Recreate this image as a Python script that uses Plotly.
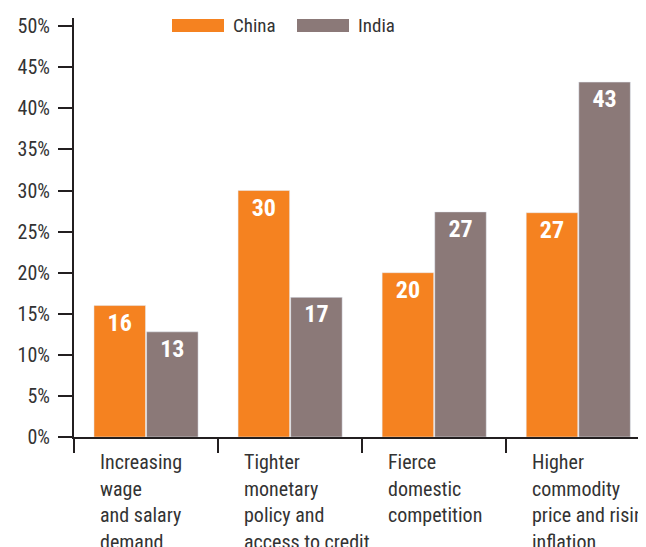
import plotly.graph_objects as go

CATEGORIES = ["wage", "credit", "competition", "inflation"]
CATEGORY_LINES = [
    ["Increasing", "wage", "and salary", "demand"],
    ["Tighter", "monetary", "policy and", "access to credit"],
    ["Fierce", "domestic", "competition"],
    ["Higher", "commodity", "price and rising", "inflation"],
]
CHINA = [16, 30, 20, 27.3]
INDIA = [12.8, 17, 27.4, 43.2]
CHINA_LABELS = ["16", "30", "20", "27"]
INDIA_LABELS = ["13", "17", "27", "43"]

ORANGE = "#F58220"
MAUVE = "#8B7978"
INK = "#333333"
LINE = "#231f20"
FONT = "Liberation Sans Narrow, Arial Narrow, Roboto Condensed, sans-serif"

# the page adds an 8px body margin, so everything is placed 8px up and left
OFF = 8
W, H = 646 - OFF, 547 - OFF
L, R, T = 74 - OFF, 0, 18 - OFF
B = H - (437 - OFF)
PW, PH = W - L - R, H - T - B


def px(x):
    return (x - OFF - L) / PW


def py(y):
    return (H - B - (y - OFF)) / PH


fig = go.Figure()
for vals, labels, name, color in [
    (CHINA, CHINA_LABELS, "China", ORANGE),
    (INDIA, INDIA_LABELS, "India", MAUVE),
]:
    fig.add_bar(
        x=CATEGORIES, y=vals, name=name, marker_color=color,
        text=labels, textposition="inside", insidetextanchor="end",
        textangle=0, textfont=dict(color="white", size=24, family=FONT, weight="bold"),
    )

# manual legend with wide swatches
for x0, label, color in [(172, "China", ORANGE), (297, "India", MAUVE)]:
    fig.add_shape(type="rect", xref="paper", yref="paper",
                  x0=px(x0), x1=px(x0 + 52), y0=py(32), y1=py(19),
                  fillcolor=color, line_width=0)
    fig.add_annotation(xref="paper", yref="paper", x=px(x0 + 59), y=py(25.5),
                       xanchor="left", yanchor="middle", text=label, showarrow=False,
                       font=dict(size=19, color=INK, family=FONT))

# category labels, one annotation per line, left aligned after each boundary tick
for i, lines in enumerate(CATEGORY_LINES):
    for j, line in enumerate(lines):
        fig.add_annotation(x=i - 0.5, xshift=24, yref="paper", y=0,
                           yshift=-(11 + j * 26.7), xanchor="left", yanchor="top",
                           text=line, showarrow=False,
                           font=dict(size=20, color=INK, family=FONT))

fig.update_layout(
    width=W, height=H,
    margin=dict(l=L, r=R, t=T, b=B),
    paper_bgcolor="white", plot_bgcolor="white",
    barmode="group", bargap=0.27, bargroupgap=0.02,
    showlegend=False,
    font=dict(family=FONT, color=INK),
    xaxis=dict(
        range=[-0.5, 3.47], showticklabels=False, tickson="boundaries",
        ticks="outside", ticklen=14, tickwidth=2, tickcolor=LINE,
        showline=True, linecolor=LINE, linewidth=2, showgrid=False, zeroline=False,
    ),
    yaxis=dict(
        range=[0, 51], dtick=5, ticksuffix="%", ticks="outside", ticklen=14,
        tickwidth=1.5, tickcolor=LINE, showline=True, linecolor=LINE, linewidth=2,
        showgrid=False, zeroline=False, ticklabelstandoff=4,
        tickfont=dict(size=20, color=INK, family=FONT),
    ),
)

fig.write_html("out.html")
